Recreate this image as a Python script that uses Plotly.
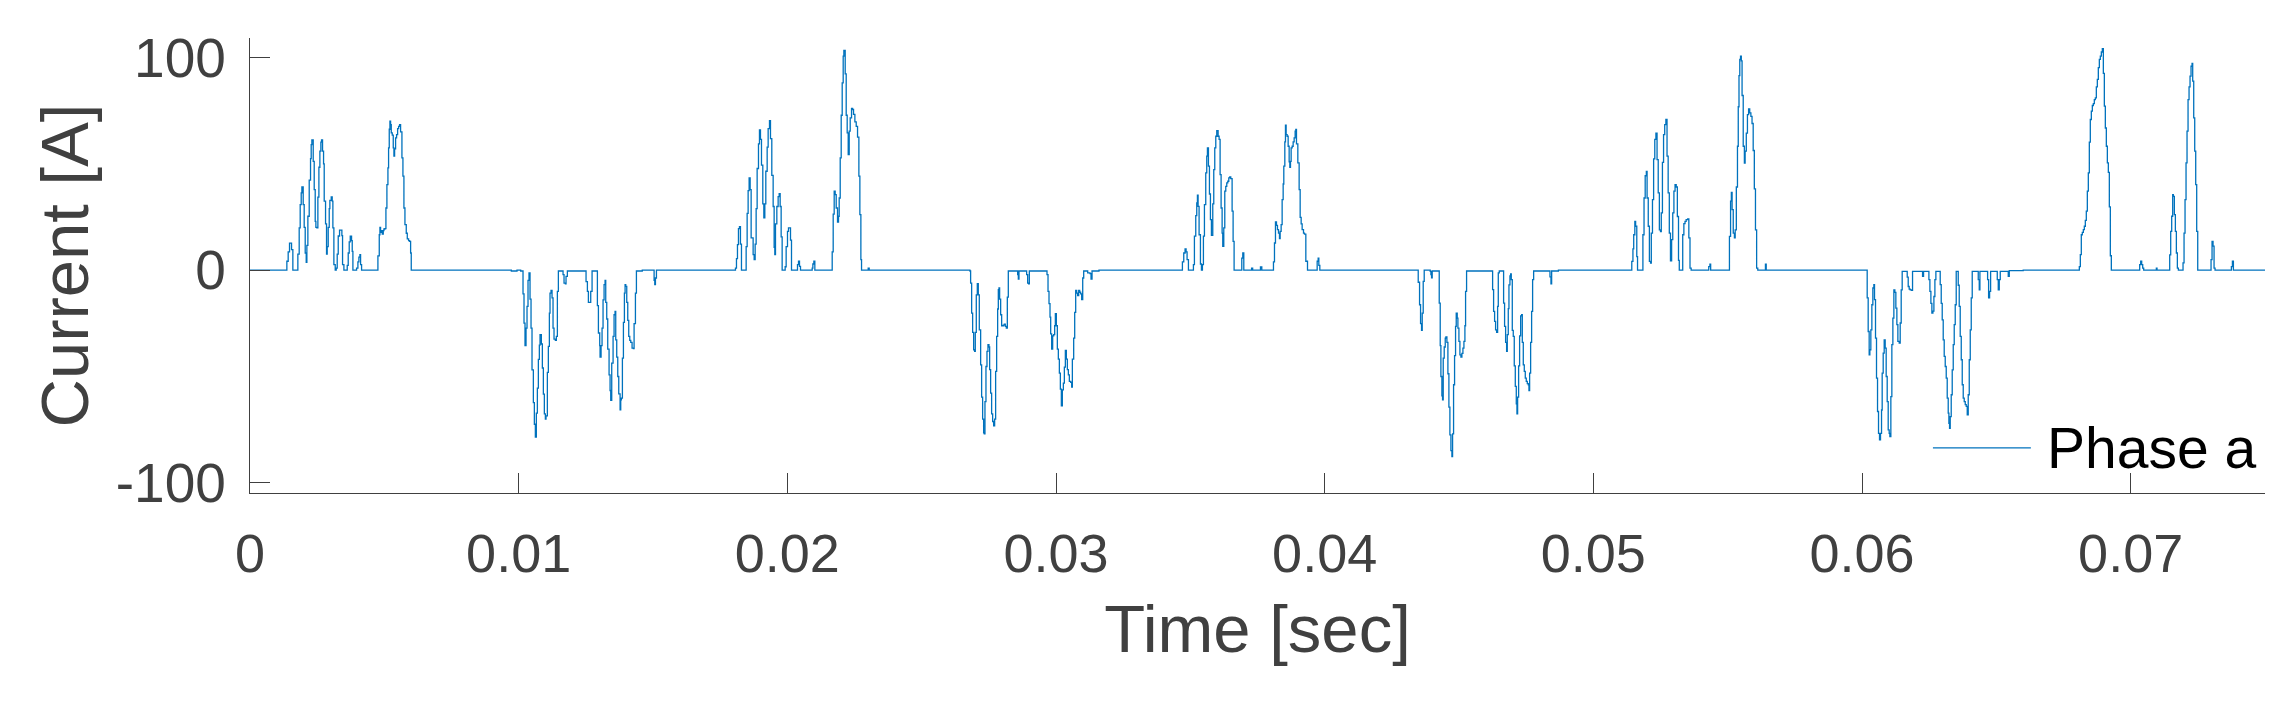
import plotly.graph_objects as go

# ---------------- data (time in ms, current in A), step-sampled waveform ----------------
p1_t = [1.372, 1.421, 1.471, 1.546, 1.595, 1.781, 1.831, 1.868, 1.906, 1.931, 1.980, 2.017, 2.055, 2.092,
        2.117, 2.154, 2.204, 2.253, 2.278, 2.303, 2.353, 2.390, 2.427, 2.452, 2.489, 2.526, 2.564, 2.601,
        2.638, 2.663, 2.700, 2.738, 2.762, 2.812, 2.849, 2.874, 2.911, 2.949, 2.973, 3.023, 3.060, 3.085,
        3.122, 3.172, 3.209, 3.246, 3.284, 3.333, 3.420, 3.445, 3.495, 3.619, 3.656, 3.693, 3.731, 3.780,
        3.805, 3.830, 3.967, 4.016, 4.053, 4.091, 4.116, 4.153, 4.761, 4.811, 4.836, 4.860, 4.885, 4.923,
        4.960, 4.985, 5.022, 5.059, 5.096, 5.134, 5.158, 5.183, 5.208, 5.233, 5.258, 5.295, 5.332, 5.357,
        5.382, 5.419, 5.456, 5.494, 5.531, 5.568, 5.605, 5.655, 5.692, 5.729, 5.767, 5.816, 5.854, 5.903,
        5.940, 5.978, 6.002]
p1_i = [4.2, 8.6, 12.7, 9.7, 0, 7.6, 19.9, 30.9, 36.4, 39.2, 30.9, 20.2, 8.1, 3.7,
        11.7, 25.4, 42.4, 52.6, 59.2, 61.4, 51.3, 38.0, 23.0, 20.2, 19.9, 34.4, 48.5, 56.1,
        60.3, 61.4, 56.1, 50.1, 32.5, 21.8, 7.6, 11.1, 20.2, 29.0, 32.9, 34.5, 32.5, 19.9,
        2.6, 0, 1.0, 7.6, 16.1, 18.9, 16.3, 2.6, 0, 2.3, 8.1, 13.3, 16.0, 13.9,
        8.9, 0, 1.0, 3.9, 6.1, 7.3, 2.6, 0, 6.7, 16.7, 20.2, 17.8, 18.6, 17.0,
        18.6, 19.4, 19.6, 29.3, 40.3, 48.2, 57.6, 66.4, 70.2, 68.6, 64.7, 63.6, 57.6, 53.7,
        57.2, 62.3, 63.9, 66.7, 67.8, 68.6, 65.2, 52.9, 44.3, 29.3, 21.5, 17.4, 14.7, 13.9,
        13.6, 8.1, 0]

n1_t = [9.727, 9.938, 10.075, 10.162, 10.199, 10.236, 10.274, 10.311, 10.348, 10.385, 10.423, 10.460,
        10.497, 10.547, 10.584, 10.621, 10.658, 10.696, 10.733, 10.770, 10.795, 10.845, 10.882, 10.919,
        10.956, 10.994, 11.018, 11.068, 11.105, 11.143, 11.167, 11.205, 11.242, 11.279, 11.316, 11.366,
        11.403, 11.441, 11.478, 11.652, 11.689, 11.739, 11.763, 11.813, 12.508, 12.558, 12.595, 12.682,
        12.732, 12.930, 12.968, 13.017, 13.030, 13.067, 13.104, 13.141, 13.179, 13.216, 13.241, 13.278,
        13.315, 13.365, 13.402, 13.427, 13.464, 13.514, 13.551, 13.588, 13.613, 13.650, 13.688, 13.725,
        13.775, 13.799, 13.824, 13.861, 13.899, 13.936, 13.961, 13.986, 14.023, 14.060, 14.097, 14.135,
        14.172, 14.221, 14.271, 14.296, 14.346, 14.383, 14.600, 15.041, 15.066, 15.091, 15.128]
n1_i = [-0.4, 0, -0.4, -11.2, -25.0, -35.6, -27.3, -17.1, -4.8, -1.3, -13.6, -27.3,
        -47.0, -62.4, -72.6, -78.7, -67.4, -55.6, -42.0, -35.3, -30.4, -34.8, -46.1, -58.4,
        -67.7, -70.2, -68.7, -48.2, -35.9, -20.2, -10.8, -9.5, -13.1, -27.3, -32.5, -33.1,
        -31.2, -10.0, -0.4, -2.1, -6.1, -6.4, -2.9, -0.4, -5.4, -10.0, -15.2, -10.0,
        -0.4, -16.7, -29.6, -35.6, -41.0, -35.6, -27.3, -14.0, -6.8, -4.8, -15.2, -23.0,
        -37.2, -49.3, -56.7, -61.4, -43.8, -31.2, -21.0, -19.4, -32.8, -41.0, -50.1, -58.3,
        -65.8, -61.1, -60.3, -41.4, -24.6, -10.8, -6.8, -7.6, -15.2, -23.7, -31.2, -33.1,
        -34.0, -36.7, -37.0, -25.2, -10.8, -0.4, 0, -4.8, -6.8, -3.7, 0]

p2_t = [18.069, 18.107, 18.144, 18.181, 18.218, 18.255, 18.293, 18.467, 18.504, 18.541, 18.578, 18.616,
        18.653, 18.727, 18.765, 18.802, 18.839, 18.876, 18.926, 18.963, 19.000, 19.038, 19.087, 19.125,
        19.162, 19.199, 19.249, 19.286, 19.336, 19.373, 19.422, 19.472, 19.509, 19.534, 19.559, 19.609,
        19.658, 19.696, 19.733, 19.770, 19.807, 19.919, 19.956, 20.006, 20.043, 20.118, 20.155, 20.378,
        20.416, 20.453, 20.490, 20.925, 20.950, 20.987, 21.024, 21.670, 21.707, 21.744, 21.781, 21.819,
        21.868, 21.905, 21.930, 21.968, 22.005, 22.042, 22.079, 22.104, 22.154, 22.191, 22.228, 22.266,
        22.303, 22.340, 22.390, 22.427, 22.464, 22.514, 22.564, 22.613, 22.663, 22.700, 22.737, 22.762,
        23.010, 23.047]
p2_i = [1.0, 5.4, 12.0, 19.6, 20.5, 12.3, 0, 11.1, 26.8, 37.5, 43.5, 38.0,
        15.2, 7.3, 5.0, 12.3, 29.0, 47.9, 59.5, 66.1, 61.6, 49.5, 31.2, 24.6,
        31.2, 46.6, 58.0, 66.7, 70.5, 62.0, 44.7, 30.0, 10.8, 7.3, 21.8, 30.0,
        34.7, 36.0, 30.0, 15.7, 0, 1.6, 11.1, 18.3, 19.9, 14.2, 0, 2.6,
        4.2, 1.8, 0, 1.0, 2.9, 4.2, 0, 8.6, 26.4, 37.2, 35.6, 29.3,
        22.6, 25.4, 34.0, 52.9, 73.0, 88.3, 100.9, 103.5, 92.5, 73.0, 64.7, 54.5,
        65.5, 71.8, 76.2, 75.7, 73.4, 69.9, 67.8, 62.7, 44.3, 26.2, 5.0, 0,
        1.0, 0]

n2_t = [26.797, 26.822, 26.860, 26.897, 26.934, 26.971, 26.996, 27.033, 27.071, 27.108, 27.145, 27.195,
        27.232, 27.269, 27.306, 27.331, 27.356, 27.393, 27.431, 27.468, 27.505, 27.530, 27.567, 27.604,
        27.642, 27.679, 27.716, 27.753, 27.791, 27.828, 27.853, 27.878, 27.902, 27.940, 27.977, 28.039,
        28.076, 28.113, 28.151, 28.188, 28.225, 28.573, 28.598, 28.622, 28.908, 28.945, 28.982, 29.007,
        29.665, 29.703, 29.740, 29.777, 29.802, 29.839, 29.876, 29.914, 29.951, 29.976, 30.013, 30.050,
        30.087, 30.125, 30.162, 30.199, 30.236, 30.274, 30.311, 30.348, 30.385, 30.423, 30.460, 30.497,
        30.547, 30.584, 30.609, 30.658, 30.696, 30.733, 30.770, 30.807, 30.845, 30.882, 30.919, 30.956,
        30.994, 31.031, 31.180, 31.267, 31.304, 31.341, 31.600]
n2_i = [-0.4, -6.1, -20.2, -29.3, -37.5, -38.3, -29.3, -11.6, -6.4, -11.6, -28.1, -44.6,
        -59.8, -70.2, -76.6, -77.1, -61.9, -45.4, -38.3, -35.1, -36.2, -46.9, -57.9, -67.7,
        -71.3, -73.3, -70.2, -47.7, -31.2, -18.3, -9.2, -8.4, -13.6, -21.0, -26.2, -25.9,
        -25.4, -26.5, -27.3, -12.7, -0.4, -2.1, -4.2, -0.4, -2.1, -6.1, -6.4, -0.4,
        -2.1, -10.0, -15.8, -22.1, -30.0, -37.2, -31.0, -30.4, -26.2, -20.5, -26.2, -37.2,
        -41.9, -48.5, -56.1, -63.9, -56.4, -53.2, -45.7, -37.8, -41.9, -46.9, -49.3, -52.4,
        -52.9, -55.1, -41.9, -32.0, -19.9, -9.5, -10.8, -12.0, -9.5, -10.4, -11.2, -13.9,
        -3.7, -0.4, -1.3, -1.6, -4.2, -0.4, 0]

p3_t = [34.705, 34.755, 34.804, 34.842, 34.879, 34.929, 35.115, 35.152, 35.202, 35.239, 35.264, 35.289,
        35.326, 35.376, 35.413, 35.450, 35.487, 35.525, 35.574, 35.611, 35.636, 35.674, 35.711, 35.748,
        35.785, 35.835, 35.872, 35.909, 35.947, 35.984, 36.034, 36.071, 36.108, 36.145, 36.183, 36.207,
        36.245, 36.282, 36.319, 36.356, 36.394, 36.431, 36.468, 36.505, 36.555, 36.592, 36.629, 36.915,
        36.952, 36.990, 37.280, 37.320, 37.610, 37.660, 38.094, 38.132, 38.169, 38.206, 38.243, 38.281,
        38.318, 38.343, 38.380, 38.417, 38.455, 38.479, 38.517, 38.541, 38.566, 38.603, 38.641, 38.678,
        38.703, 38.728, 38.752, 38.790, 38.827, 38.864, 38.901, 38.926, 38.951, 39.001, 39.050, 39.088,
        39.125, 39.162, 39.212, 39.249, 39.299, 39.361, 39.721, 39.758, 39.783, 39.820]
p3_i = [3.9, 8.1, 10.0, 8.6, 5.0, 0, 2.6, 16.0, 25.7, 31.7, 35.3, 30.1,
        16.7, 2.9, 0, 2.6, 16.0, 30.9, 45.8, 53.7, 57.6, 49.0, 35.9, 23.8,
        16.4, 31.2, 47.4, 57.6, 63.1, 65.8, 63.1, 61.6, 45.0, 29.3, 17.5, 11.2,
        19.9, 37.2, 39.5, 41.1, 41.9, 43.5, 43.9, 43.1, 27.8, 13.6, 0, 5.7,
        8.1, 0, 1.0, 0, 1.5, 0, 3.9, 12.8, 22.7, 21.1, 19.1, 17.5,
        14.9, 18.3, 21.5, 33.2, 40.6, 49.0, 60.5, 68.3, 63.9, 63.1, 58.4, 51.0,
        48.5, 51.3, 57.6, 58.4, 60.5, 62.3, 65.5, 66.3, 59.5, 50.6, 38.0, 24.9,
        21.8, 19.1, 17.5, 17.0, 4.2, 0, 4.2, 5.7, 2.3, 0]

n3_t = [43.482, 43.532, 43.569, 43.606, 43.631, 43.668, 43.705, 43.929, 43.954, 43.979, 44.003, 44.264,
        44.301, 44.326, 44.363, 44.388, 44.413, 44.450, 44.488, 44.512, 44.550, 44.587, 44.624, 44.661,
        44.699, 44.736, 44.761, 44.798, 44.835, 44.872, 44.897, 44.934, 44.959, 44.997, 45.034, 45.071,
        45.108, 45.146, 45.183, 45.220, 45.245, 45.282, 46.251, 46.288, 46.325, 46.362, 46.400, 46.437,
        46.462, 46.499, 46.660, 46.697, 46.735, 46.772, 46.797, 46.834, 46.859, 46.896, 46.921, 46.946,
        46.983, 47.020, 47.057, 47.095, 47.132, 47.157, 47.182, 47.219, 47.256, 47.294, 47.331, 47.356,
        47.393, 47.430, 47.467, 47.504, 47.542, 47.579, 47.604, 47.629, 47.666, 47.703, 47.740, 47.778,
        48.386, 48.423, 48.448, 48.700]
n3_i = [-5.7, -16.3, -25.2, -28.4, -20.2, -5.3, 0, -0.6, -2.1, -3.6, -0.4, -15.5,
        -35.6, -50.1, -59.2, -61.1, -41.4, -36.2, -32.0, -31.5, -34.0, -48.8, -64.5, -77.6,
        -85.0, -87.8, -77.1, -54.0, -40.3, -26.5, -20.2, -22.6, -27.3, -33.6, -39.9, -41.0,
        -39.2, -36.7, -33.6, -26.2, -10.0, -0.4, -9.2, -19.4, -24.1, -28.1, -29.3, -17.1,
        -1.3, -0.4, -15.5, -26.5, -34.0, -38.3, -30.4, -18.1, -6.9, -2.7, -1.7, -4.5,
        -28.4, -31.2, -45.1, -54.8, -63.0, -67.7, -59.8, -45.1, -31.0, -21.5, -21.0, -34.0,
        -44.6, -47.7, -50.9, -52.4, -53.5, -54.0, -56.7, -48.5, -34.0, -19.4, -4.5, -0.4,
        -3.2, -6.4, -0.4, 0]

p4_t = [51.431, 51.474, 51.503, 51.545, 51.574, 51.617, 51.645, 51.845, 51.887, 51.930, 51.973, 52.001,
        52.044, 52.087, 52.130, 52.158, 52.201, 52.244, 52.287, 52.329, 52.372, 52.415, 52.458, 52.500,
        52.529, 52.572, 52.614, 52.657, 52.700, 52.743, 52.785, 52.828, 52.871, 52.914, 52.956, 52.999,
        53.042, 53.085, 53.127, 53.170, 53.199, 53.327, 53.370, 53.413, 53.455, 53.512, 53.555, 53.598,
        53.641, 54.296, 54.339, 54.367, 55.066, 55.108, 55.137, 55.165, 55.208, 55.251, 55.280, 55.322,
        55.365, 55.394, 55.422, 55.451, 55.479, 55.508, 55.536, 55.579, 55.622, 55.650, 55.693, 55.736,
        55.779, 55.821, 55.864, 55.907, 55.950, 55.992, 56.035, 56.078, 56.121, 56.406, 56.435]
p4_i = [4.1, 10.0, 16.7, 23.0, 20.7, 6.4, 0, 16.7, 34.0, 44.5, 46.5, 34.0,
        20.7, 4.1, 3.3, 17.5, 33.2, 52.4, 61.6, 64.6, 52.1, 36.4, 19.0, 18.2,
        27.0, 50.8, 63.9, 68.6, 71.0, 53.7, 36.4, 17.5, 4.4, 14.4, 27.0, 37.2,
        40.3, 39.2, 25.3, 4.6, 0, 16.7, 21.9, 23.0, 23.8, 24.1, 15.2, 1.0,
        0, 1.7, 2.8, 0, 15.9, 32.5, 36.7, 28.5, 17.5, 15.2, 19.0, 39.2,
        58.4, 77.0, 91.7, 99.3, 100.9, 98.6, 82.3, 58.4, 50.5, 56.1, 64.6, 73.3,
        76.0, 74.1, 72.5, 69.1, 56.4, 38.3, 19.0, 1.0, 0, 2.8, 0]

n4_t = [60.193, 60.230, 60.267, 60.292, 60.329, 60.367, 60.404, 60.441, 60.466, 60.503, 60.540, 60.578,
        60.615, 60.652, 60.689, 60.727, 60.751, 60.789, 60.826, 60.863, 60.900, 60.938, 60.975, 61.012,
        61.037, 61.074, 61.111, 61.149, 61.186, 61.223, 61.260, 61.298, 61.335, 61.385, 61.422, 61.459,
        61.496, 61.683, 61.720, 61.757, 61.794, 61.844, 61.881, 62.254, 62.291, 62.490, 62.527, 62.564,
        62.601, 62.639, 62.676, 62.713, 62.750, 62.911, 62.949, 62.986, 63.023, 63.060, 63.098, 63.135,
        63.172, 63.209, 63.234, 63.259, 63.284, 63.321, 63.358, 63.396, 63.433, 63.470, 63.507, 63.582,
        63.619, 63.656, 63.694, 63.731, 63.768, 63.805, 63.843, 63.880, 63.917, 63.954, 63.992, 64.029,
        64.066, 64.103, 64.327, 64.364, 64.389, 64.675, 64.712, 64.749, 64.787, 65.035, 65.072, 65.109,
        65.146, 65.444, 65.482, 66.000]
n4_i = [-13.1, -28.9, -39.9, -37.5, -28.1, -16.3, -8.4, -6.8, -13.9, -32.0, -50.9, -66.6,
        -76.9, -80.0, -76.9, -65.9, -48.5, -39.1, -32.8, -36.7, -50.1, -61.9, -75.3, -76.9,
        -78.4, -59.6, -35.1, -22.6, -9.3, -10.5, -17.9, -25.7, -33.6, -34.4, -24.9, -9.3,
        -0.6, -3.3, -7.7, -8.9, -9.3, -9.5, -0.6, -2.9, -0.6, -4.5, -10.0, -15.6,
        -20.2, -19.3, -12.4, -4.5, -0.6, -6.8, -15.6, -23.4, -32.8, -40.6, -45.4, -50.9,
        -60.3, -67.4, -72.2, -74.5, -69.0, -58.7, -47.0, -35.1, -25.7, -16.3, -0.6, -7.1,
        -17.1, -31.2, -42.2, -54.0, -60.3, -61.9, -63.4, -64.2, -68.2, -58.7, -42.2, -28.1,
        -13.1, -0.6, -4.5, -9.3, -0.6, -4.5, -13.1, -10.0, -0.6, -4.5, -9.3, -4.5,
        -0.6, -2.9, -0.2, 0]

p5_t = [68.089, 68.126, 68.163, 68.200, 68.238, 68.275, 68.312, 68.349, 68.387, 68.424, 68.461, 68.498,
        68.536, 68.573, 68.610, 68.647, 68.685, 68.722, 68.759, 68.796, 68.834, 68.871, 68.908, 68.945,
        68.983, 69.020, 69.057, 69.094, 69.132, 69.169, 69.206, 69.243, 69.280, 70.336, 70.373, 70.410,
        70.448, 70.485, 70.956, 70.981, 71.453, 71.490, 71.527, 71.564, 71.589, 71.627, 71.664, 71.701,
        71.738, 71.776, 71.949, 71.987, 72.024, 72.061, 72.098, 72.136, 72.173, 72.210, 72.247, 72.285,
        72.309, 72.347, 72.384, 72.421, 72.458, 72.496, 72.992, 73.029, 73.066, 73.104, 73.141, 73.749,
        73.787, 73.824]
p5_i = [1.7, 7.3, 16.7, 17.8, 19.1, 20.7, 23.5, 27.8, 37.2, 45.8, 60.3, 71.0,
        74.9, 77.6, 78.5, 80.4, 81.2, 86.4, 89.9, 95.4, 99.3, 100.9, 102.8, 104.4,
        92.7, 77.3, 67.0, 58.4, 50.6, 46.1, 29.8, 6.8, 0, 2.6, 4.2, 2.6,
        1.0, 0, 1.0, 0, 7.2, 18.3, 25.4, 35.6, 34.8, 26.2, 18.3, 8.1,
        1.0, 0, 3.4, 17.5, 33.2, 50.6, 65.5, 80.4, 86.4, 91.4, 96.1, 97.4,
        89.1, 71.8, 56.1, 40.3, 18.3, 0, 5.0, 13.6, 11.3, 1.0, 0, 1.7,
        4.2, 0]

x_tick_vals = [0, 0.01, 0.02, 0.03, 0.04, 0.05, 0.06, 0.07]
x_tick_text = ["0", "0.01", "0.02", "0.03", "0.04", "0.05", "0.06", "0.07"]
y_tick_vals = [-100, 0, 100]
y_tick_text = ["-100", "0", "100"]

# ---------------- assemble series ----------------
bursts = [(p1_t, p1_i), (n1_t, n1_i), (p2_t, p2_i), (n2_t, n2_i), (p3_t, p3_i),
          (n3_t, n3_i), (p4_t, p4_i), (n4_t, n4_i), (p5_t, p5_i)]
time_ms = [0.0]
current = [0.0]
for bt, bi in bursts:
    time_ms += bt
    current += bi
time_ms.append(75.0)
current.append(0.0)
time_s = [t / 1000.0 for t in time_ms]

FONT = "Liberation Sans, Arial, Helvetica, sans-serif"
AXC = "#404040"
LINE_C = "#0072BD"

fig = go.Figure()
fig.add_trace(go.Scatter(
    x=time_s, y=current, mode="lines", name="Phase a",
    line=dict(color=LINE_C, width=1.3, shape="hv"),
    showlegend=False, hoverinfo="x+y"))

# legend drawn MATLAB-style (long line sample, no box)
fig.add_shape(type="line", xref="paper", yref="paper",
              x0=0.8352, x1=0.8838, y0=0.0990, y1=0.0990,
              line=dict(color=LINE_C, width=1.3))
fig.add_annotation(text="Phase a", xref="paper", yref="paper",
                   x=0.8908, y=0.0990, xanchor="left", yanchor="middle",
                   showarrow=False, font=dict(family=FONT, size=57, color="#000000"))

# page body has an 8px default margin, so the figure is sized to fit inside the 2288x702 window
fig.update_layout(
    width=2272, height=686,
    margin=dict(l=242, r=15, t=30, b=201, pad=0, autoexpand=False),
    paper_bgcolor="white", plot_bgcolor="white",
    font=dict(family=FONT, color=AXC),
    showlegend=False,
)
fig.update_xaxes(
    range=[0, 0.075], tickvals=x_tick_vals, ticktext=x_tick_text, automargin=False,
    showgrid=False, zeroline=False, showline=True, linecolor=AXC, linewidth=1.3,
    ticks="inside", ticklen=20, tickwidth=1.3, tickcolor=AXC,
    tickfont=dict(family=FONT, size=54, color=AXC), ticklabelstandoff=13,
    title=dict(text="Time [sec]", font=dict(family=FONT, size=67, color=AXC), standoff=23),
    mirror=False,
)
fig.update_yaxes(
    range=[-105, 109.4], tickvals=y_tick_vals, ticktext=y_tick_text, automargin=False,
    showgrid=False, zeroline=False, showline=True, linecolor=AXC, linewidth=1.3,
    ticks="inside", ticklen=20, tickwidth=1.3, tickcolor=AXC,
    tickfont=dict(family=FONT, size=55, color=AXC), ticklabelstandoff=12,
    title=dict(text="Current [A]", font=dict(family=FONT, size=67, color=AXC), standoff=5),
    mirror=False,
)

fig.write_html("out.html")
